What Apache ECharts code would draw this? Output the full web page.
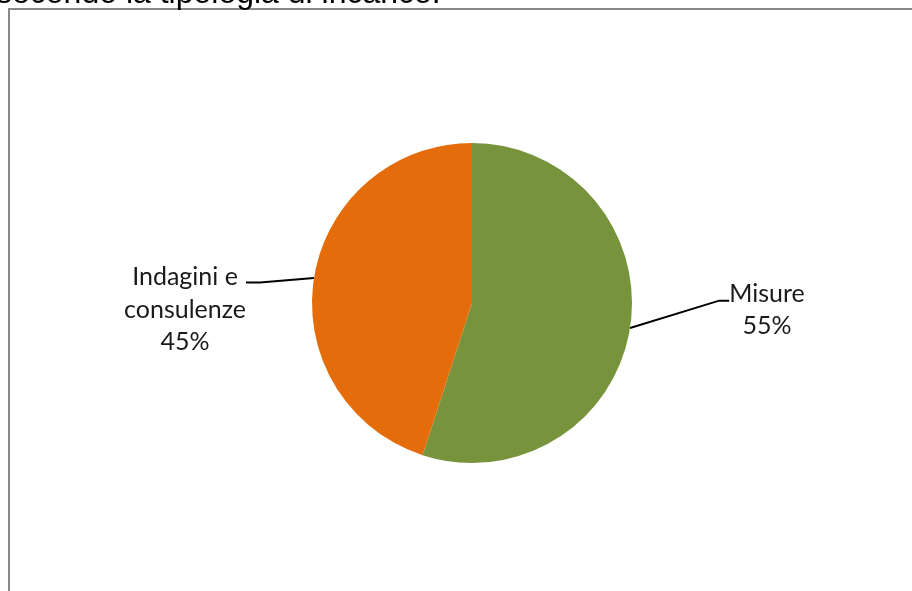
<!DOCTYPE html>
<html>
<head>
<meta charset="utf-8">
<script src="https://cdn.jsdelivr.net/npm/echarts@6/dist/echarts.min.js"></script>
<style>html,body{margin:0;padding:0;background:#fff}#c{width:912px;height:591px}</style>
</head>
<body>
<div id="c"></div>
<script>
const categories = ['Misure', 'Indagini e\nconsulenze'];
const values = [55, 45];
const colors = ['#77933C', '#E46C0A'];
const titleText = 'secondo la tipologia di incarico.';

const chart = echarts.init(document.getElementById('c'));
const labelPos = [
  {x: 767, y: 300, sp: 'spA', len2: 10},
  {x: 185, y: 264, sp: 'spB', len2: 14}
];
const textStyle = {fontFamily: 'Lato, "Open Sans", sans-serif', fontSize: 25, color: '#1a1a1a', lineHeight: 32.5, align: 'center'};
chart.setOption({
  animation: false,
  graphic: [
    {type: 'rect', shape: {x: 9, y: 9, width: 920, height: 600}, style: {fill: 'none', stroke: '#888888', lineWidth: 2}, silent: true},
    {type: 'text', x: -4, y: -6, style: {text: titleText, font: '32px "Liberation Sans", Arial, sans-serif', fill: '#000', verticalAlign: 'middle'}}
  ],
  series: [{
    type: 'pie',
    center: [472, 303],
    radius: 160,
    startAngle: 90,
    clockwise: true,
    data: categories.map((n, i) => ({
      name: n, value: values[i], itemStyle: {color: colors[i]},
      labelLine: {length2: labelPos[i].len2}
    })),
    label: {
      show: true,
      formatter: function (p) {
        return '{' + labelPos[p.dataIndex].sp + '| }\n{t|' + p.name + '\n' + p.percent + '%}';
      },
      rich: {
        t: textStyle,
        spA: {fontSize: 10, lineHeight: 20},
        spB: {fontSize: 10, lineHeight: 91}
      },
      align: 'center'
    },
    labelLine: {show: true, lineStyle: {color: '#000', width: 2}, length: 20, length2: 10},
    labelLayout: function (p) {
      const pos = labelPos[p.dataIndex];
      return {x: pos.x, y: pos.y, align: 'center', verticalAlign: 'middle'};
    }
  }]
});
</script>
</body>
</html>
